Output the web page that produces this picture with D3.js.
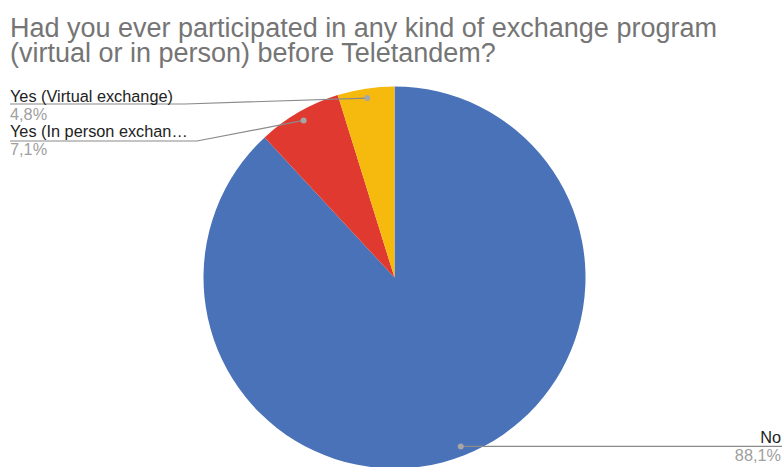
<!DOCTYPE html>
<html>
<head>
<meta charset="utf-8">
<script src="https://cdn.jsdelivr.net/npm/d3@7"></script>
<style>
  body { margin: 0; background: #fff; }
  text { font-family: Arial, "Liberation Sans", sans-serif; }
</style>
</head>
<body>
<div id="chart"></div>
<script>
// chart data
var titleLines = ["Had you ever participated in any kind of exchange program",
    "(virtual or in person) before Teletandem?"];
var categories = ["No", "Yes (In person exchan\u2026", "Yes (Virtual exchange)"];
var values = [88.1, 7.1, 4.8];
var percentLabels = ["88,1%", "7,1%", "4,8%"];
var colors = ["#4a72b8", "#e0392f", "#f6b90e"];

var width = 782, height = 467;
var cx = 394.5, cy = 277.5, radius = 191;

var svg = d3.select('#chart')
    .append('svg')
    .attr('width', width)
    .attr('height', height);

svg.selectAll('text.title')
    .data(titleLines)
    .enter().append('text')
        .attr('class', 'title')
        .attr('x', 10)
        .attr('y', function(d, i) { return 37 + i * 25; })
        .style('font-size', '27px')
        .style('fill', '#757575')
        .text(function(d) { return d; });

var pie = d3.pie().sort(null).value(function(d) { return d; });
var arcs = pie(values);
var arc = d3.arc().innerRadius(0).outerRadius(radius);
var dotArc = d3.arc().innerRadius(radius * 0.95).outerRadius(radius * 0.95);

var g = svg.append('g').attr('transform', 'translate(' + cx + ',' + cy + ')');

g.selectAll('path')
    .data(arcs)
    .enter().append('path')
        .attr('d', arc)
        .style('fill', function(d, i) { return colors[i]; });

// label placement (left side labels stacked, "No" at bottom right)
var labelPos = [
    {x: 781, y: 443, anchor: 'end', lineY: null, kink: null},
    {x: 10, y: 137, anchor: 'start', lineY: 141, kink: 197},
    {x: 10, y: 102, anchor: 'start', lineY: 104, kink: 185}
];

arcs.forEach(function(d, i) {
    var c = dotArc.centroid(d);
    var px = cx + c[0], py = cy + c[1];
    var p = labelPos[i];
    var pts;
    if (p.anchor === 'end') {
        pts = [[px, py], [width, py]];
    } else {
        pts = [[px, py], [p.kink, p.lineY], [p.x, p.lineY]];
    }
    svg.append('path')
        .attr('d', d3.line()(pts))
        .style('fill', 'none')
        .style('stroke', '#8a8a8a')
        .style('stroke-width', 1.2);
    svg.append('circle')
        .attr('cx', px).attr('cy', py).attr('r', 3)
        .style('fill', '#a6a6a6');
    svg.append('text')
        .attr('x', p.x).attr('y', p.y)
        .attr('text-anchor', p.anchor)
        .style('font-size', '16.3px')
        .style('fill', '#222')
        .text(categories[i]);
    svg.append('text')
        .attr('x', p.x).attr('y', p.y + 18)
        .attr('text-anchor', p.anchor)
        .style('font-size', '16.3px')
        .style('fill', '#a0a0a0')
        .text(percentLabels[i]);
});
</script>
</body>
</html>
